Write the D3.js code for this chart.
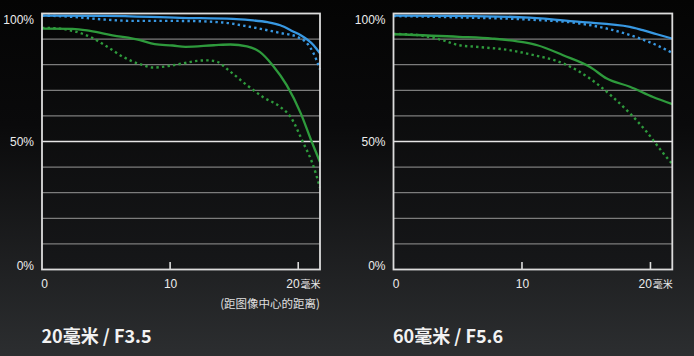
<!DOCTYPE html>
<html>
<head>
<meta charset="utf-8">
<script src="https://cdn.jsdelivr.net/npm/d3@7"></script>
<style>
  html, body { margin: 0; padding: 0; background: #000; }
  svg { display: block; }
</style>
</head>
<body>
<svg id="chart" width="694" height="356"></svg>
<script>
// ---- data ----
const xTicks = [0, 10, 20];
const yLabelTicks = [0, 50, 100];
const gridLevels = [10, 20, 30, 40, 50, 60, 70, 80, 90];
const unitLabel = "毫米";
const axisNote = "(距图像中心的距离)";
const chartTitles = ["20毫米 / F3.5", "60毫米 / F5.6"];

// left chart: 20mm F3.5
const leftBlueSolidX = [0, 5, 10.8, 14.9, 16.25, 17.6, 18.6, 19.6, 20.2, 21.2, 21.7];
const leftBlueSolidY = [99.2, 99.1, 98.3, 97.9, 97.4, 96.6, 95.4, 93.0, 91.5, 87.6, 84.4];
const leftBlueDotX = [0, 2, 5, 7.1, 10.8, 14.1, 16, 18.6, 19.9, 20.7, 21.2, 21.7];
const leftBlueDotY = [99.2, 98.8, 97.6, 97.1, 97.1, 96.5, 95.0, 92.4, 90.9, 88.3, 84.4, 78.2];
const leftGreenSolidX = [0, 2.4, 3.75, 5.5, 7.65, 8.8, 10.2, 11.2, 13.4, 14.7, 16, 17, 18, 19.1, 20.2, 21, 21.7];
const leftGreenSolidY = [94.1, 94.0, 93.2, 91.5, 89.6, 88.0, 87.5, 87.0, 87.6, 87.9, 87.2, 85.0, 79.8, 72.0, 61.0, 50.6, 42.0];
const leftGreenDotX = [0, 1.4, 2.4, 3.75, 5.1, 6.35, 7.65, 8.7, 9.75, 11, 12.1, 12.9, 13.7, 14.4, 16, 17.3, 18.6, 19.4, 20.4, 21.1, 21.7];
const leftGreenDotY = [94.4, 94.1, 93.2, 90.9, 87.0, 83.0, 80.2, 78.9, 79.4, 80.5, 81.5, 81.7, 81.1, 78.5, 72.0, 67.2, 63.5, 59.6, 49.4, 41.6, 32.0];

// right chart: 60mm F5.6
const rightBlueSolidX = [0, 5, 10.6, 14.5, 18.4, 19.4, 20.5, 21.7];
const rightBlueSolidY = [99.2, 99.1, 98.4, 96.7, 94.8, 93.5, 91.9, 90.2];
const rightBlueDotX = [0, 5, 10.6, 14.5, 17.1, 19.2, 20.5, 21.7];
const rightBlueDotY = [99.0, 98.5, 97.6, 96.1, 93.5, 90.2, 87.6, 84.6];
const rightGreenSolidX = [0, 5.1, 7.7, 10.2, 11.2, 13.2, 15.3, 16.6, 18.4, 20.2, 21.7];
const rightGreenSolidY = [91.9, 90.9, 90.2, 88.7, 87.6, 83.7, 79.1, 74.6, 71.4, 67.4, 64.6];
const rightGreenDotX = [0, 1.5, 2.5, 3.8, 5.1, 6.4, 9, 10.6, 13.2, 14.5, 15.8, 17.1, 18.4, 19.7, 21, 21.7];
const rightGreenDotY = [92.0, 91.8, 91.1, 89.6, 87.6, 87.0, 85.7, 84.1, 80.5, 77.2, 72.7, 67.2, 61.0, 53.8, 45.4, 41.2];

// ---- drawing ----
const svg = d3.select("#chart");
const defs = svg.append("defs");
const bg = defs.append("linearGradient").attr("id", "bg").attr("x1", 0).attr("y1", 0).attr("x2", 0).attr("y2", 1);
bg.append("stop").attr("offset", "0%").attr("stop-color", "#040404");
bg.append("stop").attr("offset", "35%").attr("stop-color", "#0a0a0b");
bg.append("stop").attr("offset", "100%").attr("stop-color", "#2c2e30");
const pg = defs.append("linearGradient").attr("id", "pg").attr("x1", 0).attr("y1", 0).attr("x2", 0).attr("y2", 1);
pg.append("stop").attr("offset", "0%").attr("stop-color", "#050505");
pg.append("stop").attr("offset", "100%").attr("stop-color", "#161719");

svg.append("rect").attr("width", 694).attr("height", 356).attr("fill", "url(#bg)");

const BLUE = "#3898e2";
const GREEN = "#2e9a3c";
const zip = (xs, ys) => xs.map((x, i) => [x, ys[i]]);

function drawPanel(left, right, title, series, showNote) {
  const x = d3.scaleLinear().domain([0, 21.7]).range([left, right]);
  const y = d3.scaleLinear().domain([0, 100]).range([269.5, 13.5]);
  const g = svg.append("g");

  g.append("rect").attr("x", x(0)).attr("y", y(100)).attr("width", x(21.7) - x(0))
    .attr("height", y(0) - y(100)).attr("fill", "url(#pg)");

  g.selectAll("line.grid").data(gridLevels).join("line")
    .attr("x1", x(0)).attr("x2", x(21.7))
    .attr("y1", d => y(d)).attr("y2", d => y(d))
    .attr("stroke", d => d === 50 ? "#e6e6e6" : "#7c7c7c")
    .attr("stroke-width", d => d === 50 ? 1.6 : 1.2);

  const line = d3.line().x(d => x(d[0])).y(d => y(d[1])).curve(d3.curveMonotoneX);
  series.forEach(s => {
    g.append("path").datum(s.data).attr("d", line)
      .attr("fill", "none").attr("stroke", s.color)
      .attr("stroke-width", s.dotted ? 2.4 : 2.3)
      .attr("stroke-dasharray", s.dotted ? "2.4,3.2" : null);
  });

  // frame
  g.append("rect").attr("x", x(0)).attr("y", y(100)).attr("width", x(21.7) - x(0))
    .attr("height", y(0) - y(100)).attr("fill", "none")
    .attr("stroke", "#dcdcdc").attr("stroke-width", 1.8);

  // x tick marks
  g.selectAll("line.tick").data(xTicks.filter(d => d > 0)).join("line")
    .attr("x1", d => x(d)).attr("x2", d => x(d))
    .attr("y1", y(0)).attr("y2", y(0) - 7.5)
    .attr("stroke", "#dcdcdc").attr("stroke-width", 1.6);

  // y labels
  const yOff = { 100: 10, 50: 4, 0: 0.5 };
  g.selectAll("text.ylab").data(yLabelTicks).join("text")
    .attr("x", x(0) - 8).attr("y", d => y(d) + yOff[d])
    .attr("text-anchor", "end").attr("fill", "#ececec")
    .style("font", "12px 'Liberation Sans', Arial, sans-serif")
    .text(d => d + "%");

  // x labels
  xTicks.forEach(t => {
    const tx = g.append("text").attr("y", 288).attr("fill", "#ececec")
      .style("font", "12px 'Liberation Sans', Arial, sans-serif");
    if (t === 20) {
      tx.attr("x", x(t) - 12).attr("text-anchor", "start");
      tx.append("tspan").text(t);
      tx.append("tspan").attr("dx", 1).style("font", "10px 'Noto Sans CJK SC', sans-serif").text(unitLabel);
    } else {
      tx.attr("x", x(t) + (t === 0 ? 2.5 : 0.5)).attr("text-anchor", "middle").text(t);
    }
  });

  if (showNote) {
    g.append("text").attr("x", x(21.7)).attr("y", 307.5).attr("text-anchor", "end")
      .attr("fill", "#e0e0e0")
      .style("font", "11.5px 'Noto Sans CJK SC', sans-serif")
      .text(axisNote);
  }

  g.append("text").attr("x", x(0) - 0.5).attr("y", 342.5).attr("fill", "#f2f2f2")
    .style("font", "bold 18px 'Noto Sans CJK SC', 'Noto Sans', sans-serif")
    .text(title);
}

drawPanel(42, 320, chartTitles[0], [
  { data: zip(leftBlueDotX, leftBlueDotY), color: BLUE, dotted: true },
  { data: zip(leftGreenDotX, leftGreenDotY), color: GREEN, dotted: true },
  { data: zip(leftGreenSolidX, leftGreenSolidY), color: GREEN, dotted: false },
  { data: zip(leftBlueSolidX, leftBlueSolidY), color: BLUE, dotted: false }
], true);

drawPanel(393.5, 672.3, chartTitles[1], [
  { data: zip(rightBlueDotX, rightBlueDotY), color: BLUE, dotted: true },
  { data: zip(rightGreenDotX, rightGreenDotY), color: GREEN, dotted: true },
  { data: zip(rightGreenSolidX, rightGreenSolidY), color: GREEN, dotted: false },
  { data: zip(rightBlueSolidX, rightBlueSolidY), color: BLUE, dotted: false }
], false);
</script>
</body>
</html>
